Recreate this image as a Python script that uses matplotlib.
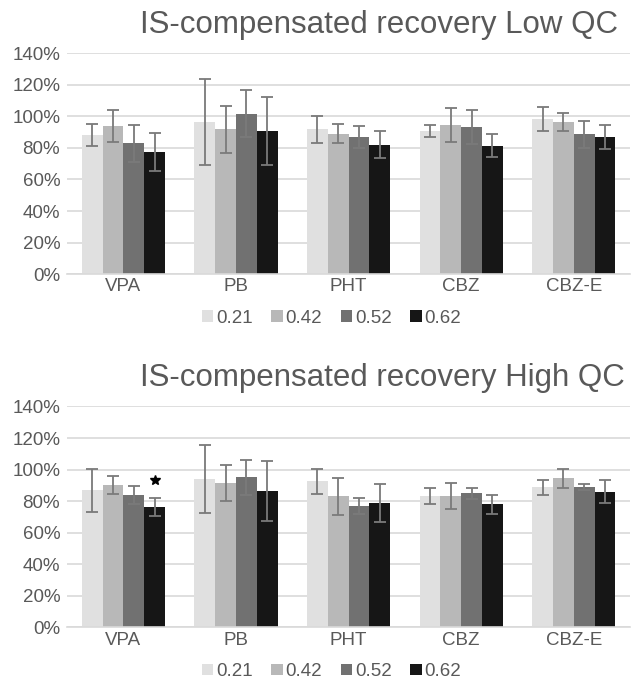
import matplotlib.pyplot as plt
import numpy as np

plt.rcParams['font.family'] = ['Liberation Sans', 'DejaVu Sans']

drugs = ['VPA', 'PB', 'PHT', 'CBZ', 'CBZ-E']
series = ['0.21', '0.42', '0.52', '0.62']
colors = ['#E0E0E0', '#B8B8B8', '#717171', '#161616']

# recovery (%) per series, one value per drug
low_mean = [
    [88.4, 96.4, 91.8, 90.7, 98.2],
    [93.9, 91.8, 89.1, 94.3, 96.4],
    [83.0, 101.7, 86.8, 93.1, 88.7],
    [77.5, 90.7, 82.1, 81.4, 87.1],
]
low_err = [
    [7.0, 27.0, 8.7, 4.0, 7.5],
    [10.2, 15.0, 6.0, 10.7, 6.0],
    [11.7, 15.0, 6.8, 10.7, 8.6],
    [12.0, 21.5, 8.4, 7.3, 7.6],
]
high_mean = [
    [86.8, 94.2, 92.5, 83.2, 88.7],
    [90.2, 91.4, 83.0, 83.2, 94.4],
    [83.8, 95.2, 76.9, 84.9, 88.9],
    [76.2, 86.3, 78.8, 77.9, 86.1],
]
high_err = [
    [13.6, 21.5, 7.8, 5.2, 4.8],
    [5.8, 11.4, 11.7, 8.0, 6.2],
    [5.5, 11.2, 5.0, 3.3, 2.0],
    [5.5, 19.0, 12.3, 6.1, 7.1],
]
# significance marker: (series index, drug index)
high_star = [(3, 0)]

yticks = [0, 20, 40, 60, 80, 100, 120, 140]
text_col = '#595959'


def panel(ax, means, errs, title, title_y, leg_y, stars=()):
    x = np.arange(len(drugs))
    w = 0.185
    for i, s in enumerate(series):
        pos = x + (i - 1.5) * w
        ax.bar(pos, means[i], w, color=colors[i], label=s, zorder=2)
        ax.errorbar(pos, means[i], yerr=errs[i], fmt='none', ecolor='#7A7A7A',
                    elinewidth=1.3, capsize=4, capthick=1.3, zorder=3)
    for si, di in stars:
        ax.plot(x[di] + (si - 1.5) * w, means[si][di] + errs[si][di] + 11.5,
                marker='*', color='black', markersize=7, zorder=4)
    ax.set_xlim(-0.5, len(drugs) - 0.5)
    ax.set_ylim(0, 140)
    ax.set_yticks(yticks)
    ax.set_yticklabels([f'{t}%' for t in yticks])
    ax.set_xticks(x)
    ax.set_xticklabels(drugs)
    ax.yaxis.grid(True, color='#D9D9D9', linewidth=1.2, zorder=0)
    ax.set_axisbelow(True)
    for sp in ['top', 'right', 'left']:
        ax.spines[sp].set_visible(False)
    ax.spines['bottom'].set_color('#D9D9D9')
    ax.spines['bottom'].set_linewidth(1.2)
    ax.tick_params(axis='both', length=0, labelsize=13.5, colors=text_col)
    ax.tick_params(axis='y', pad=5)
    ax.tick_params(axis='x', pad=3)
    ax.legend(loc='center', bbox_to_anchor=(0.47, leg_y), ncol=4, frameon=False,
              fontsize=13.5, labelcolor=text_col, handlelength=0.6,
              handleheight=0.6, handletextpad=0.15, columnspacing=1.0)
    ax.figure.text(140 / 639, title_y, title, fontsize=22.5, color=text_col,
                   ha='left', va='baseline')


fig = plt.figure(figsize=(6.39, 6.82), dpi=100)
ax1 = fig.add_axes([0.105, 0.598, 0.881, 0.324])
ax2 = fig.add_axes([0.105, 0.080, 0.881, 0.324])
panel(ax1, low_mean, low_err, 'IS-compensated recovery Low QC',
      1 - 32.7 / 682, -0.2)
panel(ax2, high_mean, high_err, 'IS-compensated recovery High QC',
      1 - 386 / 682, -0.2, high_star)
fig.savefig('out.png', dpi=100)
